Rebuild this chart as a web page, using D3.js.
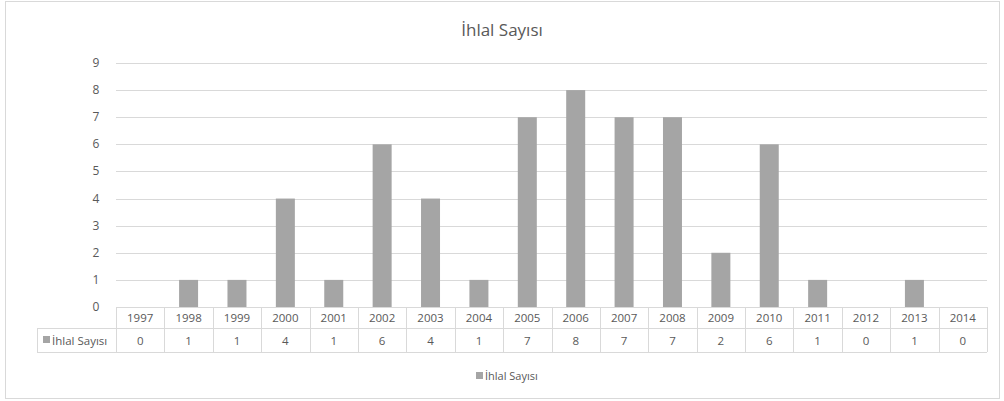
<!DOCTYPE html>
<html>
<head>
<meta charset="utf-8">
<script src="https://cdn.jsdelivr.net/npm/d3@7"></script>
<style>
    body { margin: 0; background: #fff; }
    text { font-family: "Open Sans", sans-serif; fill: #595959; }
</style>
</head>
<body>
<svg id="chart" width="1004" height="401"></svg>
<script>
    // chart data
    let years = ["1997", "1998", "1999", "2000", "2001", "2002", "2003", "2004", "2005",
        "2006", "2007", "2008", "2009", "2010", "2011", "2012", "2013", "2014"]
    let counts = [0, 1, 1, 4, 1, 6, 4, 1, 7, 8, 7, 7, 2, 6, 1, 0, 1, 0]
    let yTicks = [0, 1, 2, 3, 4, 5, 6, 7, 8, 9]
    let seriesName = "İhlal Sayısı"

    let svg = d3.select("#chart")
    let barColor = "#a5a5a5"
    let gridColor = "#d9d9d9"

    // outer frame
    svg.append("rect")
        .attr("x", 5.5).attr("y", 1.5)
        .attr("width", 994).attr("height", 397)
        .attr("fill", "none")
        .attr("stroke", gridColor)

    let plotLeft = 116, plotRight = 987, plotTop = 63, plotBottom = 307

    let xScale = d3.scaleBand()
        .domain(years)
        .range([plotLeft, plotRight])
    let yScale = d3.scaleLinear()
        .domain([0, 9])
        .range([plotBottom, plotTop])

    // gridlines
    svg.append("g")
        .selectAll("line")
        .data(yTicks)
        .enter()
        .append("line")
        .attr("x1", plotLeft).attr("x2", plotRight)
        .attr("y1", d => Math.round(yScale(d)) + 0.5)
        .attr("y2", d => Math.round(yScale(d)) + 0.5)
        .attr("stroke", gridColor)

    // y labels
    svg.append("g")
        .selectAll("text")
        .data(yTicks)
        .enter()
        .append("text")
        .attr("x", 96)
        .attr("y", d => yScale(d) + 4)
        .attr("text-anchor", "middle")
        .attr("font-size", 12)
        .text(d => d)

    // bars
    let barW = 19
    svg.append("g")
        .selectAll("rect")
        .data(counts)
        .enter()
        .append("rect")
        .attr("x", (d, i) => xScale(years[i]) + xScale.bandwidth() / 2 - barW / 2)
        .attr("y", d => yScale(d))
        .attr("width", barW)
        .attr("height", d => plotBottom - yScale(d))
        .attr("fill", barColor)

    // data table
    let rowTop = plotBottom, rowMid = 328, rowBot = 352, tableLeft = 37
    let table = svg.append("g").attr("stroke", gridColor).attr("fill", "none")
    table.append("line").attr("x1", plotLeft).attr("x2", plotRight).attr("y1", rowTop + 0.5).attr("y2", rowTop + 0.5)
    table.append("line").attr("x1", tableLeft).attr("x2", plotRight).attr("y1", rowMid + 0.5).attr("y2", rowMid + 0.5)
    table.append("line").attr("x1", tableLeft).attr("x2", plotRight).attr("y1", rowBot + 0.5).attr("y2", rowBot + 0.5)
    table.append("line").attr("x1", tableLeft + 0.5).attr("x2", tableLeft + 0.5).attr("y1", rowMid).attr("y2", rowBot)
    table.selectAll(".vline")
        .data(years.concat(["end"]))
        .enter()
        .append("line")
        .attr("class", "vline")
        .attr("x1", d => Math.round(d == "end" ? plotRight : xScale(d)) + 0.5)
        .attr("x2", d => Math.round(d == "end" ? plotRight : xScale(d)) + 0.5)
        .attr("y1", rowTop)
        .attr("y2", rowBot)

    svg.append("g")
        .selectAll("text")
        .data(years)
        .enter()
        .append("text")
        .attr("x", d => xScale(d) + xScale.bandwidth() / 2)
        .attr("y", 322)
        .attr("text-anchor", "middle")
        .attr("font-size", 11.5)
        .text(d => d)

    svg.append("g")
        .selectAll("text")
        .data(counts)
        .enter()
        .append("text")
        .attr("x", (d, i) => xScale(years[i]) + xScale.bandwidth() / 2)
        .attr("y", 345)
        .attr("text-anchor", "middle")
        .attr("font-size", 11.5)
        .text(d => d)

    // table row header with key
    svg.append("rect")
        .attr("x", 43).attr("y", 336)
        .attr("width", 7).attr("height", 7)
        .attr("fill", barColor)
    svg.append("text")
        .attr("x", 52).attr("y", 345)
        .attr("font-size", 11.5)
        .text(seriesName)

    // title
    svg.append("text")
        .attr("x", 502).attr("y", 36)
        .attr("text-anchor", "middle")
        .attr("font-size", 17)
        .text(seriesName)

    // legend
    svg.append("rect")
        .attr("x", 476).attr("y", 372)
        .attr("width", 7).attr("height", 7)
        .attr("fill", barColor)
    svg.append("text")
        .attr("x", 485).attr("y", 380)
        .attr("font-size", 11)
        .text(seriesName)
</script>
</body>
</html>
